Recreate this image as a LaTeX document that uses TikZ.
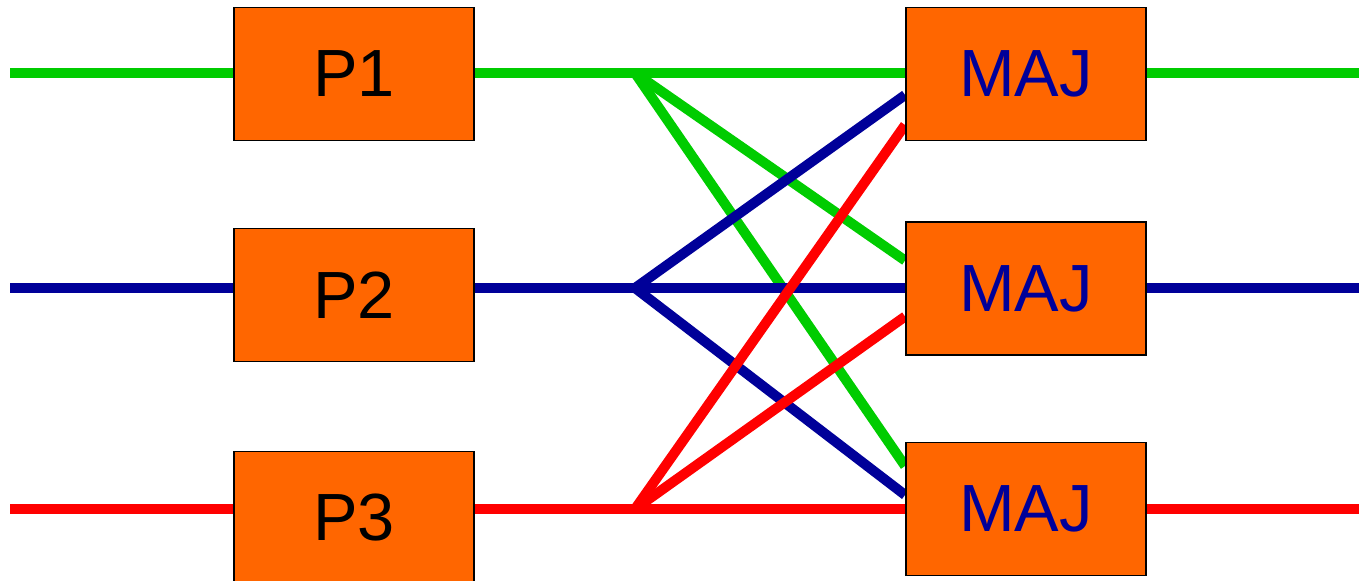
\documentclass[tikz,border=0pt]{standalone}
\usepackage{fontspec}
\setmainfont{Liberation Sans}
\usetikzlibrary{positioning, backgrounds}
\definecolor{boxorange}{RGB}{255,102,0}
\definecolor{wiregreen}{RGB}{0,204,0}
\definecolor{wireblue}{RGB}{0,0,153}
\definecolor{wirered}{RGB}{255,0,0}

\begin{document}
\begin{tikzpicture}[
    x=0.02cm, y=-0.02cm,
    block/.style={rectangle, draw=black, line width=1.1pt, fill=boxorange, minimum width=4.8cm,
                  minimum height=2.66cm, inner sep=0pt, font=\fontsize{38}{40}\selectfont},
    vote/.style={block, text=wireblue},
    wire/.style={line width=0.2cm}
]
    \useasboundingbox (0,0) rectangle (1359,581);
    % processors and voters
    \node[block] (p1) at (354,74) {P1};
    \node[block] (p2) at (354,295) {P2};
    \node[block] (p3) at (354,518) {P3};
    \node[vote] (maj1) at (1026,74) {MAJ};
    \node[vote] (maj2) at (1026,288.5) {MAJ};
    \node[vote] (maj3) at (1026,509) {MAJ};
    % ends and fan-out points
    \coordinate (in1) at (10,73);  \coordinate (j1) at (635,73);  \coordinate (out1) at (1359,73);
    \coordinate (in2) at (10,288); \coordinate (j2) at (635,288); \coordinate (out2) at (1359,288);
    \coordinate (in3) at (10,509); \coordinate (j3) at (635,509); \coordinate (out3) at (1359,509);
    \begin{scope}[on background layer]
        \draw[wire, wiregreen] (in1) -- (j1) -- (maj1.west |- j1);
        \draw[wire, wiregreen] (j1) -- ([yshift=0.56cm]maj2.west);
        \draw[wire, wiregreen] (j1) -- ([yshift=0.86cm]maj3.west);
        \draw[wire, wiregreen] (maj1.east |- out1) -- (out1);
        \draw[wire, wireblue] (in2) -- (j2) -- (maj2.west |- j2);
        \draw[wire, wireblue] (j2) -- ([yshift=-0.42cm]maj1.west);
        \draw[wire, wireblue] (j2) -- ([yshift=0.28cm]maj3.west);
        \draw[wire, wireblue] (maj2.east |- out2) -- (out2);
        \draw[wire, wirered] (in3) -- (j3) -- (maj3.west |- j3);
        \draw[wire, wirered] (j3) -- ([yshift=-1.02cm]maj1.west);
        \draw[wire, wirered] (j3) -- ([yshift=-0.56cm]maj2.west);
        \draw[wire, wirered] (maj3.east |- out3) -- (out3);
    \end{scope}
\end{tikzpicture}
\end{document}
